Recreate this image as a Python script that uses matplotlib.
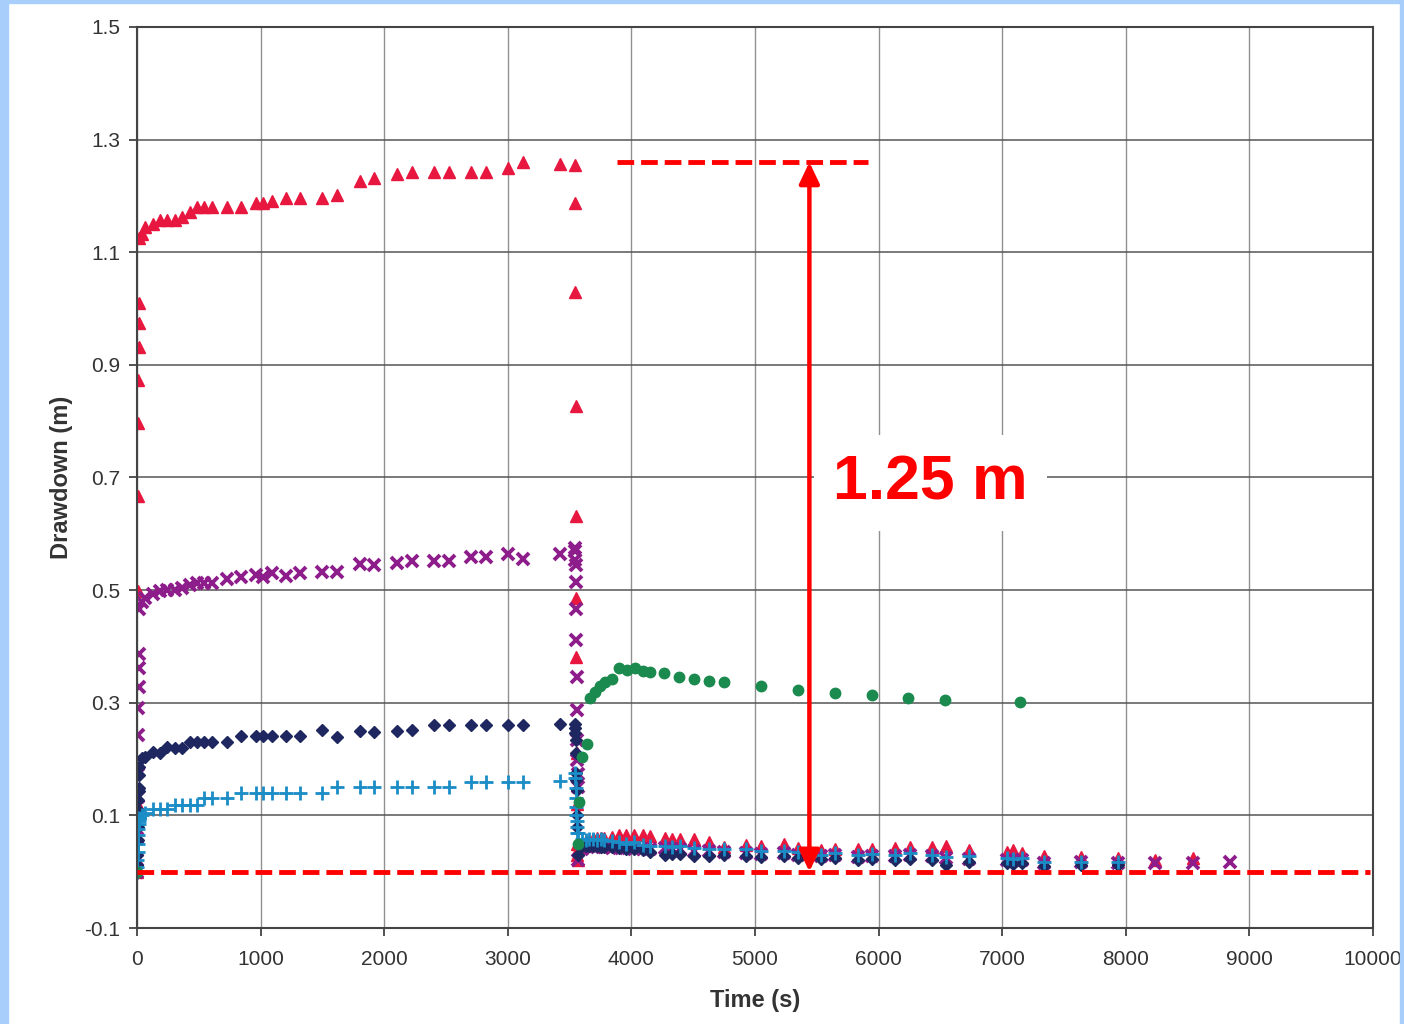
import numpy as np
import matplotlib
matplotlib.use("Agg")
from matplotlib import pyplot as plt
from matplotlib.patches import Rectangle

plt.rcParams['font.family'] = ['Liberation Sans', 'DejaVu Sans']
plt.rcParams['lines.scale_dashes'] = False

# start of pumping (s)
t_start = [0, 2, 4, 6, 8, 10, 12, 14, 16, 18]
red_start = [0.0, 0.02, 0.122, 0.499, 0.667, 0.797, 0.873, 0.932, 0.974, 1.010]
purple_start = [0.0, 0.02, 0.06, 0.133, 0.189, 0.242, 0.290, 0.328, 0.361, 0.386]
navy_start = [0.0, 0.012, 0.03, 0.056, 0.08, 0.109, 0.128, 0.144, 0.148, 0.172]
cyan_start = [0.0, 0.008, 0.02, 0.035, 0.05, 0.065, 0.075, 0.085, 0.09, np.nan]

# pumping phase
t_pump = [20, 40, 65, 130, 185, 245, 305, 365, 425, 485, 545, 605, 725, 845, 960,
          1020, 1090, 1205, 1320, 1500, 1620, 1805, 1920, 2105, 2225, 2405, 2525,
          2705, 2825, 3000, 3125, 3420, 3540]
red_pump = [1.125, 1.132, 1.145, 1.150, 1.157, 1.157, 1.158, 1.163, 1.171, 1.180,
            1.180, 1.180, 1.180, 1.180, 1.187, 1.187, 1.191, 1.196, 1.196, 1.196,
            1.202, 1.227, 1.232, 1.239, 1.243, 1.243, 1.243, 1.242, 1.243, 1.249,
            1.260, 1.256, 1.255]
purple_pump = [0.466, 0.479, 0.486, 0.494, 0.498, 0.500, 0.501, 0.503, 0.509, 0.512,
               0.512, 0.512, 0.519, 0.523, 0.527, 0.524, 0.530, 0.525, 0.530, 0.533,
               0.533, 0.547, 0.544, 0.549, 0.552, 0.552, 0.552, 0.558, 0.559, 0.564,
               0.556, 0.565, 0.570]
navy_pump = [0.186, 0.201, 0.204, 0.213, 0.211, 0.221, 0.219, 0.219, 0.231, 0.231,
             0.231, 0.231, 0.231, 0.241, 0.241, 0.241, 0.241, 0.241, 0.241, 0.251,
             0.239, 0.250, 0.248, 0.250, 0.251, 0.261, 0.261, 0.260, 0.261, 0.261,
             0.261, 0.263, 0.263]
cyan_pump = [0.095, 0.100, 0.105, 0.112, 0.112, 0.112, 0.119, 0.119, 0.119, 0.119,
             0.130, 0.130, 0.130, 0.140, 0.140, 0.140, 0.140, 0.140, 0.140, 0.140,
             0.151, 0.150, 0.150, 0.150, 0.150, 0.150, 0.150, 0.160, 0.160, 0.160,
             0.160, 0.161, np.nan]

# pump switched off
t_stop = [3544, 3546, 3548, 3550, 3552, 3554, 3556, 3558, 3560, 3562, 3564, 3566]
red_stop = [1.188, 1.030, 0.827, 0.631, 0.486, 0.381, 0.21, 0.12, 0.05, 0.03, 0.02, np.nan]
purple_stop = [0.574, 0.553, 0.544, 0.515, 0.467, 0.411, 0.346, 0.287, 0.234, 0.198, 0.174, 0.151]
navy_stop = [0.255, 0.246, 0.234, 0.211, 0.175, 0.163, 0.145, 0.100, 0.08, np.nan, np.nan, np.nan]
cyan_stop = [0.175, 0.166, 0.148, 0.130, 0.115, 0.100, 0.09, 0.079, 0.068, np.nan, np.nan, np.nan]

# recovery
t_rec = [3570, 3600, 3630, 3660, 3690, 3720, 3750, 3780, 3840, 3900, 3960, 4020,
         4090, 4150, 4270, 4330, 4390, 4510, 4630, 4750, 4930, 5050, 5235, 5350,
         5535, 5650, 5830, 5950, 6135, 6250, 6430, 6545, 6735, 7035, 7090, 7160,
         7335, 7635, 7940, 8240, 8540, 8840]
red_rec = [0.040, 0.050, 0.055, 0.055, 0.058, 0.060, 0.060, 0.060, 0.062, 0.065,
           0.065, 0.065, 0.065, 0.064, 0.059, 0.058, 0.058, 0.058, 0.052, 0.044,
           0.048, 0.046, 0.049, 0.042, 0.038, 0.040, 0.041, 0.041, 0.042, 0.044,
           0.044, 0.046, 0.038, 0.035, 0.038, 0.033, 0.028, 0.026, 0.025, 0.020,
           0.025, np.nan]
purple_rec = [0.020, 0.040, 0.045, 0.045, 0.044, 0.044, 0.045, 0.043, 0.042, 0.042,
              0.042, 0.041, 0.040, 0.040, 0.042, 0.040, 0.040, 0.037, 0.036, 0.035,
              0.034, 0.032, 0.033, 0.030, 0.027, 0.030, 0.026, 0.028, 0.027, 0.030,
              0.028, 0.024, 0.022, 0.020, 0.021, 0.020, 0.016, 0.018, 0.016, 0.016,
              0.016, 0.018]
navy_rec = [0.030, 0.045, 0.046, 0.046, 0.045, 0.045, 0.044, 0.044, 0.043, 0.042,
            0.040, 0.040, 0.038, 0.035, 0.030, 0.032, 0.032, 0.028, 0.027, 0.030,
            0.028, 0.026, 0.027, 0.025, 0.022, 0.024, 0.020, 0.022, 0.020, 0.022,
            0.020, 0.012, 0.018, 0.015, 0.014, 0.015, 0.010, 0.012, 0.012, np.nan,
            np.nan, np.nan]
cyan_rec = [0.068, 0.058, 0.056, 0.058, 0.058, 0.057, 0.058, 0.056, 0.055, 0.052,
            0.050, 0.053, 0.048, 0.045, 0.046, 0.044, 0.046, 0.042, 0.040, 0.040,
            0.040, 0.036, 0.037, 0.035, 0.030, 0.033, 0.029, 0.031, 0.030, 0.034,
            0.030, 0.026, 0.028, 0.025, 0.022, 0.024, 0.018, 0.018, 0.017, np.nan,
            np.nan, np.nan]

green_t = [0, 3570, 3580, 3600, 3640, 3665, 3705, 3746, 3786, 3840, 3902, 3967, 4029,
           4091, 4150, 4266, 4388, 4506, 4630, 4749, 5046, 5350, 5647, 5944, 6240,
           6537, 7144]
green_dd = [0.0, 0.05, 0.123, 0.204, 0.226, 0.308, 0.319, 0.329, 0.337, 0.343, 0.362,
            0.358, 0.361, 0.356, 0.355, 0.352, 0.345, 0.342, 0.339, 0.336, 0.330,
            0.322, 0.318, 0.314, 0.309, 0.305, 0.302]

max_dd = 1.26
arrow_x = 5440
label = "1.25 m"

fig = plt.figure(figsize=(14.04, 10.24), dpi=100)
fig.patch.set_facecolor('white')
# blue frame round the page, drawn over everything so it clips the last tick label
for x0, y0, w, h in [(0, 0, 8/1404, 1), (0, 1-3/1024, 1, 3/1024), (1400/1404, 0, 4/1404, 1)]:
    fig.add_artist(Rectangle((x0, y0), w, h, transform=fig.transFigure,
                             color='#a8cefb', zorder=10))

ax = fig.add_axes([137/1404, 1-928/1024, 1236/1404, 901/1024])

t_all = np.concatenate([t_start, t_pump, t_stop, t_rec])
series = [
    (np.concatenate([red_start, red_pump, red_stop, red_rec]), '^', '#e8173f', 8, {}),
    (np.concatenate([purple_start, purple_pump, purple_stop, purple_rec]), 'x', '#8e1d8c', 8, {'mew': 2.8}),
    (np.concatenate([navy_start, navy_pump, navy_stop, navy_rec]), 'D', '#1e275f', 6.5, {}),
    (np.concatenate([cyan_start, cyan_pump, cyan_stop, cyan_rec]), '+', '#1a8cc6', 9.5, {'mew': 2}),
]
for vals, mk, col, ms, extra in series:
    ax.plot(t_all, vals, linestyle='none', marker=mk, color=col, ms=ms, **extra)
ax.plot(green_t, green_dd, linestyle='none', marker='o', color='#1b8a4e', ms=7.5)

ax.set_xlim(0, 10000)
ax.set_ylim(-0.1, 1.5)
ax.set_xticks(np.arange(0, 10001, 1000))
ax.set_yticks(np.arange(-0.1, 1.51, 0.2))
ax.set_yticklabels(['%.1f' % v for v in np.arange(-0.1, 1.51, 0.2)])
ax.tick_params(labelsize=15, colors='#333333', length=6, width=1.2, pad=6)
ax.tick_params(axis='x', pad=10)
ax.grid(axis='x', color='#909090', lw=1)
ax.grid(axis='y', color='#555555', lw=1.1)
ax.set_axisbelow(True)
for s in ax.spines.values():
    s.set_color('#444444')
    s.set_linewidth(1.5)

ax.set_xlabel('Time (s)', fontsize=17, fontweight='bold', color='#333333', labelpad=14)
ax.set_ylabel('Drawdown (m)', fontsize=17, fontweight='bold', color='#333333', labelpad=8)

# maximum drawdown marker
ax.plot([0, 9975], [0.0, 0.0], color='#ff0000', lw=3.5, dashes=(12, 5), zorder=5)
ax.plot([3885, 5915], [max_dd, max_dd], color='#ff0000', lw=3.5, dashes=(12, 5), zorder=5)
ax.annotate('', xy=(arrow_x, max_dd), xytext=(arrow_x, 0.0),
            arrowprops=dict(arrowstyle='<|-|>,head_length=0.8,head_width=0.38',
                            mutation_scale=16, color='#ff0000', lw=3.2,
                            shrinkA=0, shrinkB=0), zorder=6)
ax.text(6420, 0.69, label, fontsize=45, fontweight='bold', color='#ff0000',
        ha='center', va='center', zorder=7,
        bbox=dict(boxstyle='square,pad=0.3', fc='white', ec='none'))

fig.savefig('out.png', dpi=100)
